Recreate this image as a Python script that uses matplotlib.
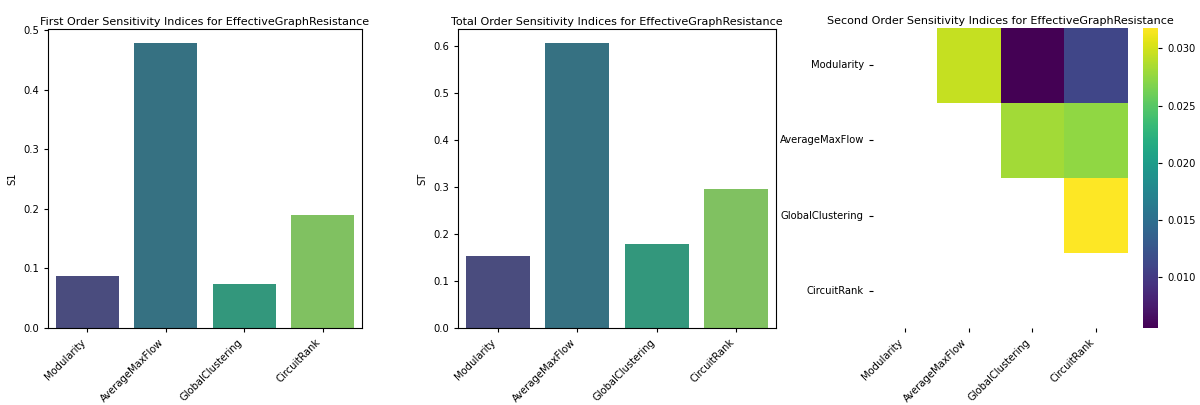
import numpy as np
import pandas as pd
import matplotlib
matplotlib.use("Agg")
import matplotlib.pyplot as plt
import seaborn as sns

params = ["Modularity", "AverageMaxFlow", "GlobalClustering", "CircuitRank"]
s1_values = [0.087, 0.478, 0.074, 0.189]
st_values = [0.153, 0.606, 0.178, 0.297]
# upper-triangle second-order indices (row, col) pairs
s2_mod = [0.0295, 0.0055, 0.0110]
s2_amf = [0.0282, 0.0274]
s2_gc = [0.0318]
output_name = "EffectiveGraphResistance"

plt.rcParams["font.family"] = ["DejaVu Sans"]
fs_title = 8.05
fs_tick = 7.2

fig = plt.figure(figsize=(12, 4.05), dpi=100)
ax1 = fig.add_axes([0.040, 0.190, 0.2617, 0.738])
ax2 = fig.add_axes([0.3817, 0.190, 0.265, 0.738])
ax3 = fig.add_axes([0.7275, 0.190, 0.2125, 0.741])
cax = fig.add_axes([0.9525, 0.190, 0.0125, 0.741])

df = pd.DataFrame({"param": params, "S1": s1_values, "ST": st_values})

for ax, col, title in [
    (ax1, "S1", "First Order Sensitivity Indices for " + output_name),
    (ax2, "ST", "Total Order Sensitivity Indices for " + output_name),
]:
    sns.barplot(data=df, x="param", y=col, hue="param", palette="viridis",
                legend=False, ax=ax)
    ax.set_title(title, fontsize=fs_title, pad=3)
    ax.set_xlabel("")
    ax.set_ylabel(col, fontsize=fs_tick)
    ax.tick_params(labelsize=fs_tick, length=3)
    ax.set_xticks(range(len(params)))
    ax.set_xticklabels(params, rotation=45, ha="right")

n = len(params)
s2 = np.full((n, n), np.nan)
s2[0, 1:] = s2_mod
s2[1, 2:] = s2_amf
s2[2, 3:] = s2_gc
mask = np.tril(np.ones((n, n), dtype=bool))
sns.heatmap(pd.DataFrame(s2, index=params, columns=params), mask=mask,
            cmap="viridis", ax=ax3, cbar_ax=cax)
ax3.set_title("Second Order Sensitivity Indices for " + output_name,
              fontsize=fs_title, pad=3)
ax3.tick_params(labelsize=fs_tick, length=3)
ax3.set_xticklabels(params, rotation=45, ha="right")
ax3.set_yticklabels(params, rotation=0)
cax.tick_params(labelsize=fs_tick, length=3)
cax.set_yticks([0.010, 0.015, 0.020, 0.025, 0.030])
cax.set_yticklabels(["0.010", "0.015", "0.020", "0.025", "0.030"])

fig.savefig("out.png", dpi=100)
